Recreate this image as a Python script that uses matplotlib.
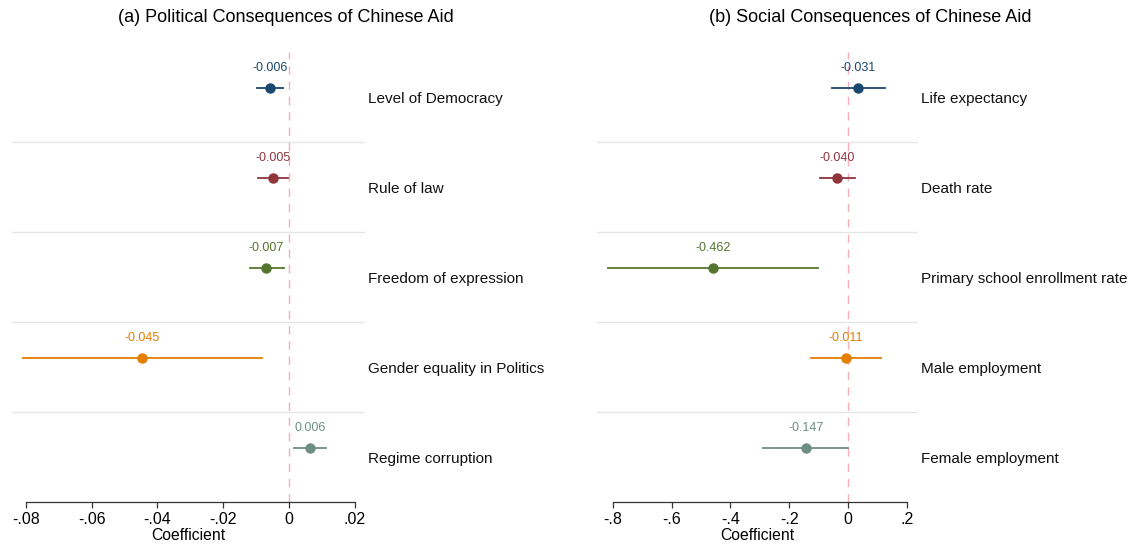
import matplotlib.pyplot as plt
import matplotlib.transforms as mtransforms

plt.rcParams['font.family'] = ['Liberation Sans', 'DejaVu Sans']

colors = ['#1a476f', '#90353b', '#55752f', '#e37e00', '#6e8e84']

# panel (a)
pol_labels = ['Level of Democracy', 'Rule of law', 'Freedom of expression',
              'Gender equality in Politics', 'Regime corruption']
pol_coef = [-0.0058, -0.0049, -0.0070, -0.0447, 0.0064]
pol_lo = [-0.0097, -0.0094, -0.0119, -0.0810, 0.0015]
pol_hi = [-0.0018, -0.0003, -0.0015, -0.0082, 0.0112]
pol_text = ['-0.006', '-0.005', '-0.007', '-0.045', '0.006']
pol_ticks = [-0.08, -0.06, -0.04, -0.02, 0, 0.02]
pol_ticklabels = ['-.08', '-.06', '-.04', '-.02', '0', '.02']

# panel (b)
soc_labels = ['Life expectancy', 'Death rate', 'Primary school enrollment rate',
              'Male employment', 'Female employment']
soc_coef = [0.034, -0.037, -0.459, -0.007, -0.143]
soc_lo = [-0.054, -0.095, -0.816, -0.126, -0.289]
soc_hi = [0.126, 0.024, -0.102, 0.112, 0.0]
soc_text = ['-0.031', '-0.040', '-0.462', '-0.011', '-0.147']
soc_ticks = [-0.8, -0.6, -0.4, -0.2, 0, 0.2]
soc_ticklabels = ['-.8', '-.6', '-.4', '-.2', '0', '.2']

fig = plt.figure(figsize=(11.35, 5.44), dpi=100)
ax1 = fig.add_axes([12/1135, 42/544, 353/1135, 450/544])
ax2 = fig.add_axes([597/1135, 42/544, 321/1135, 450/544])


def panel(ax, title, labels, coef, lo, hi, txt, ticks, ticklabels, xlim, title_x):
    n = len(labels)
    for k in range(n - 1):
        ax.axhline(k + 0.5, color='#e6e6e6', lw=1, zorder=1)
    ax.axvline(0, color='#f4b0b8', lw=1, ls=(0, (6, 5)), zorder=1)
    for k in range(n):
        y = k - 0.1
        ax.plot([lo[k], hi[k]], [y, y], color=colors[k], lw=1.3, zorder=3)
        ax.plot(coef[k], y, 'o', color=colors[k], ms=6.5, zorder=4)
        ax.text(coef[k], y - 0.22, txt[k], color=colors[k], fontsize=9,
                ha='center', va='center')
    trans = mtransforms.blended_transform_factory(ax.transAxes, ax.transData)
    for k in range(n):
        ax.text(1.009, k + 0.02, labels[k], transform=trans, fontsize=11,
                ha='left', va='center', color='#111111')
    ax.set_ylim(n - 0.5, -0.5)
    ax.set_xlim(*xlim)
    ax.set_yticks([])
    for s in ['top', 'right', 'left']:
        ax.spines[s].set_visible(False)
    ax.spines['bottom'].set_bounds(ticks[0], ticks[-1])
    ax.spines['bottom'].set_color('#333333')
    ax.spines['bottom'].set_linewidth(0.9)
    ax.set_xticks(ticks)
    ax.set_xticklabels(ticklabels, fontsize=11.5)
    ax.tick_params(axis='x', length=4, width=0.9, color='#333333', pad=3)
    ax.set_xlabel('Coefficient', fontsize=11.3, labelpad=1)
    fig.text(title_x, 1 - 18/544, title, fontsize=13, ha='center', va='center')


panel(ax1, '(a) Political Consequences of Chinese Aid', pol_labels, pol_coef,
      pol_lo, pol_hi, pol_text, pol_ticks, pol_ticklabels,
      (-0.0842, 0.0231), 286/1135)
panel(ax2, '(b) Social Consequences of Chinese Aid', soc_labels, soc_coef,
      soc_lo, soc_hi, soc_text, soc_ticks, soc_ticklabels,
      (-0.854, 0.238), 870/1135)

fig.savefig('out.png', dpi=100)
